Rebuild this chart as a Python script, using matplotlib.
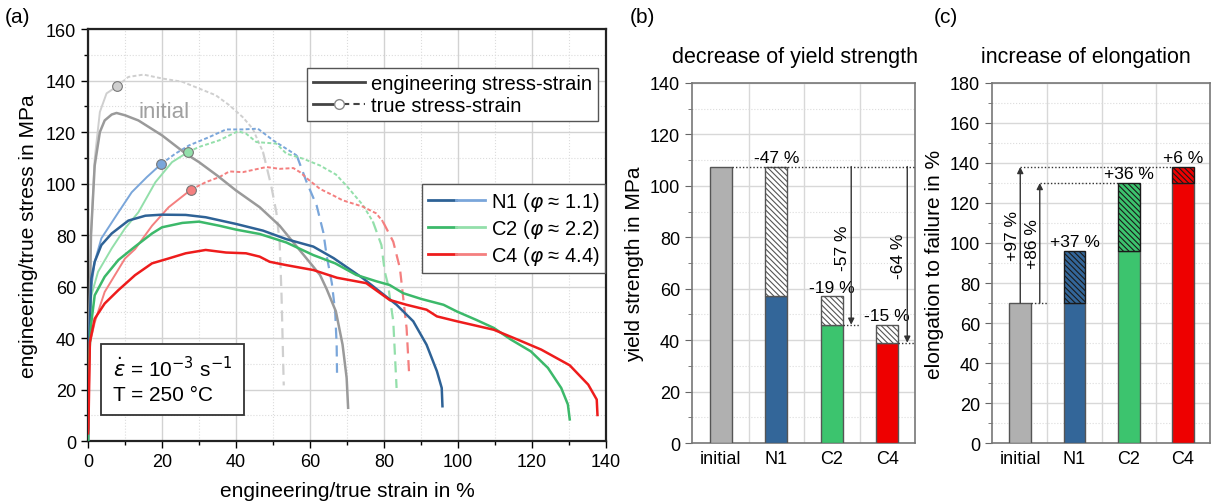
import matplotlib
matplotlib.use('Agg')
import matplotlib.pyplot as plt
from matplotlib.lines import Line2D
from matplotlib.legend_handler import HandlerBase, HandlerTuple
from matplotlib.ticker import MultipleLocator

plt.rcParams['font.family'] = ['Liberation Sans', 'DejaVu Sans']
plt.rcParams['mathtext.fontset'] = 'dejavusans'
plt.rcParams['hatch.linewidth'] = 0.8

# ---- panel (a): stress-strain curves ----
# engineering curves
init_eng_x = [0, 0.3, 0.8, 1.8, 3.2, 4.5, 6.4, 7.7, 10, 13.6, 20, 26.4, 30, 35, 40, 46.4, 51.8, 55.5, 59, 62.7, 64.5, 67, 68.8, 69.9, 70.3]
init_eng_y = [0, 40, 80, 107, 120, 124.5, 126.8, 127.4, 126.5, 124.5, 118.7, 111.6, 108.3, 103, 97.3, 90.8, 83.6, 77.1, 71, 64.5, 59, 50.3, 37.4, 24.5, 12.9]
n1_eng_x = [0, 0.2, 0.9, 1.8, 3.6, 6.4, 10.9, 15.5, 20, 26.4, 31.8, 40, 47.3, 53.6, 60.9, 66.4, 74.3, 78.8, 83.4, 87.9, 91.5, 94.3, 95.6, 95.8]
n1_eng_y = [0, 35, 63, 69.6, 76.1, 80.6, 85.6, 87.5, 87.9, 87.8, 86.9, 84.3, 81.7, 78.4, 75.5, 71, 63.2, 58.1, 52.9, 46.5, 37.4, 27.1, 20.6, 13.5]
c2_eng_x = [0, 0.2, 0.8, 1.8, 4.5, 8.2, 12.7, 17.3, 20, 25.5, 30, 35.5, 40, 46.4, 53.6, 60.9, 66.8, 72.5, 78, 81.5, 85.2, 90, 96.1, 99.7, 105, 109.7, 114.3, 119.7, 124.3, 127.9, 129.7, 130.2]
c2_eng_y = [0, 30, 45, 56.6, 63.8, 70.3, 75.5, 80.6, 83, 84.7, 85.2, 83.6, 82.1, 80.4, 77.1, 72.2, 69, 64.5, 62, 60.6, 57.4, 55.2, 52.9, 50.3, 47, 43.9, 39.4, 34.8, 28.4, 20.6, 14.2, 8.4]
c4_eng_x = [0, 0.1, 0.5, 1.8, 4.5, 8.2, 12.7, 17.3, 21.8, 26.4, 31.8, 37.3, 42.7, 46.4, 49.1, 53.6, 60.9, 67.3, 75.2, 81.5, 86.1, 91.5, 94.3, 99.7, 109.7, 116.1, 122.5, 130.2, 135.2, 137.5, 137.7]
c4_eng_y = [3, 5, 38.4, 47.5, 53.4, 58.6, 64.4, 69, 70.9, 72.9, 74.2, 73.2, 72.9, 71.6, 69.6, 68.3, 66.4, 63.4, 61.3, 54.8, 52.9, 51, 48.4, 46.5, 43.2, 39.4, 35.5, 29.4, 21.9, 16.1, 10.1]

# true curves: rise up to the yield marker, then hardening part, then final drop
init_true_rise_x = [0, 0.3, 0.8, 1.8, 3.2, 5, 7.9]
init_true_rise_y = [0, 40, 80, 109.6, 127.8, 135, 137.8]
init_true_x = [7.9, 10.9, 15, 20, 25.5, 30, 34.5, 38.2, 41.8, 44.5, 47.3]
init_true_y = [137.8, 141.4, 142.3, 140.8, 139.5, 136.9, 134.3, 130.4, 125.8, 121.3, 112.2]
init_drop_x = [47.3, 49.5, 50.9, 51.8, 52.3, 52.9]
init_drop_y = [112.2, 99.2, 88.8, 77.1, 56.6, 21.6]

n1_true_rise_x = [0, 0.2, 0.9, 1.8, 3.6, 8.2, 11.8, 15.9, 19.8]
n1_true_rise_y = [0, 35, 60, 69.6, 78.7, 88.8, 96.6, 102.5, 107.6]
n1_true_x = [19.8, 23.6, 27.3, 32.7, 37.3, 41.8, 45.9, 50, 53.6, 56.4]
n1_true_y = [107.6, 111.6, 114.8, 118, 121, 121, 121.3, 116.8, 113.5, 110.9]
n1_drop_x = [56.4, 59.1, 61.8, 63.6, 64.5, 65.9, 66.8, 67.2, 67.3]
n1_drop_y = [110.9, 100.5, 91.4, 81, 72, 61.3, 50.3, 37.4, 26.5]

c2_true_rise_x = [0, 0.3, 0.9, 2.7, 6.4, 10, 13.6, 18.2, 22.7, 27]
c2_true_rise_y = [0, 35, 56.6, 65.7, 74.8, 82.6, 88.8, 100.5, 108.3, 112.2]
c2_true_x = [27, 30, 35.5, 40.5, 42.7, 45.5, 50.9, 53.6, 58.2, 62.7, 67, 69.7, 74.3, 77]
c2_true_y = [112.2, 114.2, 116.8, 120.3, 119.4, 116.1, 115.5, 111.6, 109.6, 107, 103.5, 99.4, 91.6, 85.2]
c2_drop_x = [77, 79.3, 80.2, 81.1, 82.5, 83.4]
c2_drop_y = [85.2, 76.1, 65.8, 60.6, 46.5, 20.6]

c4_true_rise_x = [0, 0.5, 1.8, 2.7, 4.5, 10, 12.7, 17.3, 21.8, 27.8]
c4_true_rise_y = [3, 38, 46, 50.1, 57.9, 70.9, 74.5, 83.6, 90.8, 97.6]
c4_true_x = [27.8, 31.8, 35.5, 38.2, 41.8, 48.2, 51.8, 55.5, 57.3, 59.5, 62.7, 66.1, 68.8, 74.3, 77.9, 79.7]
c4_true_y = [97.6, 100.5, 102.5, 104.7, 104.4, 106.4, 105.7, 106, 104.4, 101.6, 97.9, 95.5, 93.5, 91, 88.4, 85.2]
c4_drop_x = [79.7, 82.5, 84.3, 85.2, 86.1, 86.8]
c4_drop_y = [85.2, 77.4, 67.1, 55.5, 43.9, 25.8]

# ---- panels (b), (c): bars ----
categories = ['initial', 'N1', 'C2', 'C4']
yield_solid = [107.5, 57, 46, 39]
yield_total = [107.5, 107.5, 57, 46]
yield_labels = ['', '-47 %', '-19 %', '-15 %']
elong_solid = [70, 70, 96, 130]
elong_total = [70, 96, 130, 138]
elong_labels = ['', '+37 %', '+36 %', '+6 %']

bar_colors = ['#b0b0b0', '#336699', '#3cc46e', '#ee0000']
eng_colors = ['#9a9a9a', '#2e6296', '#3cb96a', '#ee1c1c']
true_colors = ['#cfcfcf', '#7aa6da', '#93dfaa', '#f47f7f']


class TrueHandler(HandlerBase):
    def create_artists(self, legend, orig_handle, xdescent, ydescent,
                       width, height, fontsize, trans):
        y = height / 2 - ydescent
        x0 = -xdescent
        a = Line2D([x0, x0 + width * 0.45], [y, y], color='#444', lw=2)
        b = Line2D([x0 + width * 0.58, x0 + width], [y, y], color='#444', lw=1.5, ls=(0, (3, 2)))
        m = Line2D([x0 + width * 0.5], [y], marker='o', ms=7, mfc='white', mec='#888', ls='none')
        for art in (a, b, m):
            art.set_transform(trans)
        return [a, b, m]


fig = plt.figure(figsize=(12.11, 5.02), dpi=100)

# ================= (a) =================
ax = fig.add_axes([0.0727, 0.1195, 0.4277, 0.8207])
eng = [(init_eng_x, init_eng_y), (n1_eng_x, n1_eng_y), (c2_eng_x, c2_eng_y), (c4_eng_x, c4_eng_y)]
rises = [(init_true_rise_x, init_true_rise_y), (n1_true_rise_x, n1_true_rise_y),
         (c2_true_rise_x, c2_true_rise_y), (c4_true_rise_x, c4_true_rise_y)]
hard = [(init_true_x, init_true_y), (n1_true_x, n1_true_y), (c2_true_x, c2_true_y), (c4_true_x, c4_true_y)]
drops = [(init_drop_x, init_drop_y), (n1_drop_x, n1_drop_y), (c2_drop_x, c2_drop_y), (c4_drop_x, c4_drop_y)]

for i in range(4):
    ax.plot(*rises[i], color=true_colors[i], lw=1.4, zorder=3)
    ax.plot(*hard[i], color=true_colors[i], lw=1.4, ls=(0, (2, 1.2)), zorder=3)
    ax.plot(*drops[i], color=true_colors[i], lw=1.6, ls=(0, (5, 3)), zorder=3)
    ax.plot(rises[i][0][-1], rises[i][1][-1], 'o', ms=7, mfc=true_colors[i],
            mec='#777', mew=0.8, zorder=5)
for i in range(4):
    ax.plot(*eng[i], color=eng_colors[i], lw=1.8, zorder=4)

ax.set_xlim(0, 140)
ax.set_ylim(0, 160)
ax.xaxis.set_major_locator(MultipleLocator(20))
ax.xaxis.set_minor_locator(MultipleLocator(10))
ax.yaxis.set_major_locator(MultipleLocator(20))
ax.yaxis.set_minor_locator(MultipleLocator(10))
ax.grid(which='major', color='#d2d2d2', lw=1, zorder=0)
ax.grid(which='minor', color='#dcdcdc', lw=0.8, ls=':', zorder=0)
ax.set_axisbelow(True)
ax.tick_params(which='major', direction='out', length=5, width=1, labelsize=13)
ax.tick_params(which='minor', direction='out', length=3, width=1)
for s in ax.spines.values():
    s.set_linewidth(1.6)
    s.set_color('#222')
ax.set_xlabel('engineering/true strain in %', fontsize=15, labelpad=8)
ax.set_ylabel('engineering/true stress in MPa', fontsize=15, labelpad=6)

ax.text(20.5, 128, 'initial', color='#a0a0a0', fontsize=16, ha='center', va='center')

h1 = Line2D([], [], color='#444', lw=2)
h2 = Line2D([], [], color='#444')
leg1 = ax.legend([h1, h2], ['engineering stress-strain', 'true stress-strain'],
                 handler_map={h2: TrueHandler()}, loc='upper right',
                 bbox_to_anchor=(0.985, 0.905), fontsize=14.5, frameon=True, fancybox=False,
                 edgecolor='#555', framealpha=1, handlelength=2.6, handletextpad=0.3,
                 borderpad=0.3, labelspacing=0.15, borderaxespad=0)
leg1.get_frame().set_linewidth(1)
ax.add_artist(leg1)

names = [r'N1 ($\varphi$ ≈ 1.1)', r'C2 ($\varphi$ ≈ 2.2)', r'C4 ($\varphi$ ≈ 4.4)']
pairs = []
for i in range(1, 4):
    pairs.append((Line2D([], [], color=eng_colors[i], lw=2), Line2D([], [], color=true_colors[i], lw=2)))
leg2 = ax.legend(pairs, names, handler_map={tuple: HandlerTuple(ndivide=None, pad=0)},
                 loc='upper right', bbox_to_anchor=(0.999, 0.625), fontsize=14.5,
                 frameon=True, fancybox=False, edgecolor='#555', framealpha=1,
                 handlelength=2.8, handletextpad=0.3, borderpad=0.3, labelspacing=0.2,
                 borderaxespad=0)
leg2.get_frame().set_linewidth(1)

ax.text(0.048, 0.09, '$\\dot{\\varepsilon}$ = 10$^{-3}$ s$^{-1}$\nT = 250 °C', transform=ax.transAxes,
        fontsize=15, va='bottom', ha='left', linespacing=1.3,
        bbox=dict(boxstyle='square,pad=0.55', fc='white', ec='#333', lw=1.3))


# ================= (b), (c) =================
def hatch_style(i, panel):
    if panel == 'b':
        return dict(color='white', edgecolor='#555', hatch='\\\\\\\\\\\\')
    return dict(color=bar_colors[i], edgecolor='#1a1a1a', hatch='\\\\\\\\\\\\')


def bar_panel(axb, solid, total, labels, ymax, panel):
    x = list(range(len(categories)))
    axb.bar(x, solid, width=0.4, color=bar_colors, edgecolor='#555', lw=1, zorder=3)
    for i in x:
        if total[i] > solid[i]:
            axb.bar(i, total[i] - solid[i], bottom=solid[i], width=0.4, zorder=3, lw=1,
                    **hatch_style(i, panel))
            axb.text(i, total[i] + 0.6 * ymax / 140, labels[i], ha='center', va='bottom', fontsize=12.5)
    axb.set_xlim(-0.52, 3.5)
    axb.set_ylim(0, ymax)
    axb.set_xticks(x)
    axb.set_xticklabels(categories)
    axb.yaxis.set_major_locator(MultipleLocator(20))
    axb.yaxis.set_minor_locator(MultipleLocator(10))
    axb.grid(axis='y', which='major', color='#d8d8d8', lw=1)
    axb.grid(axis='y', which='minor', color='#dcdcdc', lw=0.8, ls=':')
    for gx in (0.5, 1.5, 2.5):
        axb.axvline(gx, color='#d8d8d8', lw=1, zorder=0)
    axb.set_axisbelow(True)
    axb.tick_params(axis='x', length=0, labelsize=13, pad=5)
    axb.tick_params(axis='y', which='major', direction='out', length=5, labelsize=13, color='#666')
    axb.tick_params(axis='y', which='minor', direction='out', length=3, color='#666')
    for s in axb.spines.values():
        s.set_color('#777')
        s.set_linewidth(1.2)


axb = fig.add_axes([0.5714, 0.1155, 0.1842, 0.7172])
bar_panel(axb, yield_solid, yield_total, yield_labels, 140, 'b')
axb.set_ylabel('yield strength in MPa', fontsize=15, labelpad=4)
axb.set_title('decrease of yield strength', fontsize=15.5, pad=15, x=0.46)
dot = dict(color='#333', lw=1, ls=(0, (1, 1.5)), zorder=4)
arr = dict(arrowstyle='-|>', color='#333', lw=1, mutation_scale=9, shrinkA=0, shrinkB=0)
axb.plot([0.2, 3.5], [yield_total[0], yield_total[0]], **dot)
axb.plot([2.2, 2.5], [yield_solid[2], yield_solid[2]], **dot)
axb.plot([3.2, 3.5], [yield_solid[3], yield_solid[3]], **dot)
axb.annotate('', xy=(2.35, yield_solid[2]), xytext=(2.35, yield_total[0]), arrowprops=arr, zorder=5)
axb.annotate('', xy=(3.36, yield_solid[3]), xytext=(3.36, yield_total[0]), arrowprops=arr, zorder=5)
axb.text(2.2, 76, '-57 %', rotation=90, ha='center', va='center', fontsize=12.5)
axb.text(3.2, 73, '-64 %', rotation=90, ha='center', va='center', fontsize=12.5)

axc = fig.add_axes([0.8192, 0.1155, 0.18, 0.7172])
bar_panel(axc, elong_solid, elong_total, elong_labels, 180, 'c')
axc.set_ylabel('elongation to failure in %', fontsize=15, labelpad=4)
axc.set_title('increase of elongation', fontsize=15.5, pad=15, x=0.43)
axc.plot([0, 2.8], [elong_total[3], elong_total[3]], **dot)
axc.plot([0.36, 1.8], [elong_total[2], elong_total[2]], **dot)
axc.plot([0.2, 0.49], [elong_solid[0], elong_solid[0]], **dot)
axc.annotate('', xy=(0, elong_total[3]), xytext=(0, elong_solid[0]), arrowprops=arr, zorder=5)
axc.annotate('', xy=(0.36, elong_total[2]), xytext=(0.36, elong_solid[0]), arrowprops=arr, zorder=5)
axc.text(-0.15, 104, '+97 %', rotation=90, ha='center', va='center', fontsize=12.5)
axc.text(0.22, 100, '+86 %', rotation=90, ha='center', va='center', fontsize=12.5)

fig.text(0.004, 0.965, '(a)', fontsize=15, va='center')
fig.text(0.52, 0.965, '(b)', fontsize=15, va='center')
fig.text(0.771, 0.965, '(c)', fontsize=15, va='center')

fig.savefig('out.png', dpi=100)
